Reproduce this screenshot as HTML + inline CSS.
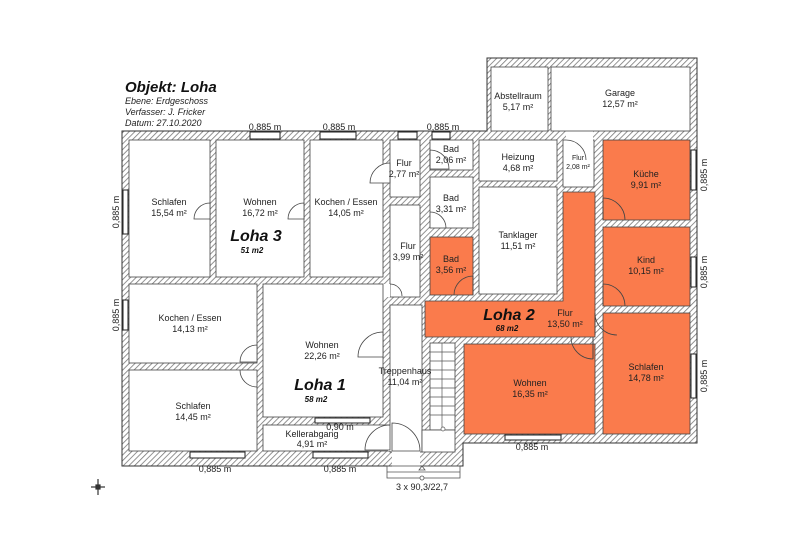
<!DOCTYPE html>
<html><head><meta charset="utf-8"><style>
html,body{margin:0;padding:0;background:#fff;}
svg{display:block;font-family:"Liberation Sans",sans-serif;}
</style></head><body>
<svg width="800" height="552" viewBox="0 0 800 552" xmlns="http://www.w3.org/2000/svg">
<defs>
<pattern id="h" width="4" height="4" patternUnits="userSpaceOnUse" patternTransform="rotate(45)">
<rect width="4" height="4" fill="#fff"/><line x1="0" y1="0" x2="0" y2="4" stroke="#777" stroke-width="1.6"/>
</pattern>
</defs>
<rect width="800" height="552" fill="#fff"/>
<!-- envelope -->
<path d="M122,131 H487 V58 H697 V443 H463 V466 H122 Z" fill="url(#h)" stroke="#333" stroke-width="1"/>
<g stroke="#444" stroke-width="0.8">
<!-- white rooms -->
<g fill="#fff">
<rect x="129" y="140" width="81" height="137"/>
<rect x="216" y="140" width="88" height="137"/>
<rect x="310" y="140" width="73" height="137"/>
<rect x="390" y="140" width="30" height="57"/>
<rect x="390" y="205" width="30" height="92"/>
<rect x="383" y="284" width="7" height="13" stroke="none"/>
<rect x="129" y="284" width="128" height="79"/>
<rect x="129" y="370" width="128" height="81"/>
<rect x="263" y="284" width="120" height="133"/>
<rect x="263" y="425" width="127" height="26"/>
<rect x="390" y="305" width="32" height="147"/>
<rect x="388" y="425" width="4" height="26" stroke="none"/>
<rect x="430" y="343" width="25" height="87"/>
<rect x="422" y="430" width="33" height="22"/>
<rect x="392" y="450" width="28" height="17" stroke="none"/>
<rect x="430" y="140" width="43" height="30"/>
<rect x="430" y="177" width="43" height="51"/>
<rect x="479" y="140" width="78" height="41"/>
<rect x="479" y="187" width="78" height="107"/>
<rect x="563" y="140" width="31" height="47"/>
<rect x="566" y="128" width="27" height="14" stroke="none"/>
<rect x="491" y="67" width="57" height="64"/>
<rect x="551" y="67" width="139" height="64"/>
</g>
<!-- orange rooms -->
<g fill="#FA7B4C">
<path d="M425,301 H563 V192 H595 V337 H425 Z"/>
<rect x="430" y="237" width="43" height="58"/>
<rect x="464" y="344" width="131" height="90"/>
<rect x="603" y="313" width="87" height="121"/>
<rect x="603" y="227" width="87" height="79"/>
<rect x="603" y="140" width="87" height="80"/>
</g>
</g>
<!-- stairs -->
<g stroke="#555" stroke-width="0.7">
<line x1="442" y1="343" x2="442" y2="430"/>
<line x1="430" y1="352" x2="455" y2="352"/><line x1="430" y1="361" x2="455" y2="361"/>
<line x1="430" y1="370" x2="455" y2="370"/><line x1="430" y1="379" x2="455" y2="379"/>
<line x1="430" y1="388" x2="455" y2="388"/><line x1="430" y1="397" x2="455" y2="397"/>
<line x1="430" y1="406" x2="455" y2="406"/><line x1="430" y1="415" x2="455" y2="415"/>
<circle cx="443" cy="429" r="2" fill="#fff"/>
</g>
<!-- steps outside -->
<g fill="none" stroke="#555" stroke-width="0.8">
<rect x="387" y="466" width="73" height="12"/>
<line x1="387" y1="472" x2="460" y2="472"/>
<circle cx="422" cy="478" r="2" fill="#fff"/>
<path d="M419,470 L422,466 L425,470 Z"/>
</g>
<!-- doors -->
<g fill="#fff" stroke="#444" stroke-width="0.8">
<path d="M210,203 A16,16 0 0 0 194,219 H210 Z"/>
<path d="M304,203 A16,16 0 0 0 288,219 H304 Z"/>
<path d="M390,163 A20,20 0 0 0 370,183 H390 Z"/>
<path d="M430,150 A19,19 0 0 1 449,169 H430 Z" fill="none"/>
<path d="M430,212 A16,16 0 0 1 446,228" fill="none"/>
<path d="M390,284 A12,12 0 0 1 402,296" fill="none"/>
<path d="M257,345 A17,17 0 0 0 240,362 H257 Z"/>
<path d="M240,370 A17,17 0 0 0 257,387" fill="none"/>
<path d="M383,332 A25,25 0 0 0 358,357 H383 Z"/>
<path d="M390,425 A25,25 0 0 0 365,450 H390 Z"/>
<path d="M392,423 A28,28 0 0 1 420,451 H392 Z"/>
<path d="M566,140 A20,20 0 0 1 586,160" fill="none"/>
<path d="M603,198 A22,22 0 0 1 625,220" fill="none"/>
<path d="M603,284 A22,22 0 0 1 625,306" fill="none"/>
<path d="M595,313 A22,22 0 0 0 617,335" fill="none"/>
<path d="M473,276 A19,19 0 0 0 454,295" fill="none"/>
<path d="M571,337 A22,22 0 0 0 593,359" fill="none"/>
</g>
<g stroke="#444" stroke-width="1">
<line x1="603" y1="198" x2="603" y2="220"/><line x1="603" y1="284" x2="603" y2="306"/>
<line x1="595" y1="313" x2="595" y2="335"/><line x1="473" y1="276" x2="473" y2="295"/>
<line x1="593" y1="337" x2="593" y2="359"/>
</g>
<!-- windows -->
<g fill="#fff" stroke="#222" stroke-width="1">
<rect x="250" y="132" width="30" height="7"/><rect x="320" y="132" width="36" height="7"/>
<rect x="398" y="132" width="19" height="7"/><rect x="432" y="132" width="18" height="7"/>
<rect x="123" y="190" width="5" height="44"/><rect x="123" y="300" width="5" height="30"/>
<rect x="190" y="452" width="55" height="6"/><rect x="313" y="452" width="55" height="6"/>
<rect x="315" y="418" width="55" height="5"/>
<rect x="505" y="435" width="56" height="5"/>
<rect x="691" y="150" width="5" height="40"/><rect x="691" y="257" width="5" height="30"/>
<rect x="691" y="354" width="5" height="44"/>
</g>
<!-- labels -->
<g font-size="9" fill="#222" text-anchor="middle">
<text x="169" y="205">Schlafen</text><text x="169" y="216">15,54 m²</text>
<text x="260" y="205">Wohnen</text><text x="260" y="216">16,72 m²</text>
<text x="346" y="205">Kochen / Essen</text><text x="346" y="216">14,05 m²</text>
<text x="404" y="166">Flur</text><text x="404" y="177">2,77 m²</text>
<text x="451" y="152">Bad</text><text x="451" y="163">2,06 m²</text>
<text x="451" y="201">Bad</text><text x="451" y="212">3,31 m²</text>
<text x="408" y="249">Flur</text><text x="408" y="260">3,99 m²</text>
<text x="451" y="262">Bad</text><text x="451" y="273">3,56 m²</text>
<text x="518" y="99">Abstellraum</text><text x="518" y="110">5,17 m²</text>
<text x="620" y="96">Garage</text><text x="620" y="107">12,57 m²</text>
<text x="518" y="160">Heizung</text><text x="518" y="171">4,68 m²</text>
<text x="578" y="160" font-size="7">Flur</text><text x="578" y="169" font-size="7">2,08 m²</text>
<text x="518" y="238">Tanklager</text><text x="518" y="249">11,51 m²</text>
<text x="646" y="177">Küche</text><text x="646" y="188">9,91 m²</text>
<text x="646" y="263">Kind</text><text x="646" y="274">10,15 m²</text>
<text x="565" y="316">Flur</text><text x="565" y="327">13,50 m²</text>
<text x="646" y="370">Schlafen</text><text x="646" y="381">14,78 m²</text>
<text x="530" y="386">Wohnen</text><text x="530" y="397">16,35 m²</text>
<text x="190" y="321">Kochen / Essen</text><text x="190" y="332">14,13 m²</text>
<text x="193" y="409">Schlafen</text><text x="193" y="420">14,45 m²</text>
<text x="322" y="348">Wohnen</text><text x="322" y="359">22,26 m²</text>
<text x="405" y="374">Treppenhaus</text><text x="405" y="385">11,04 m²</text>
<text x="312" y="437">Kellerabgang</text><text x="312" y="447">4,91 m²</text>
<text x="265" y="130">0,885 m</text><text x="339" y="130">0,885 m</text><text x="443" y="130">0,885 m</text>
<text x="215" y="472">0,885 m</text><text x="340" y="472">0,885 m</text>
<text x="340" y="430">0,90 m</text><text x="532" y="450">0,885 m</text>
<text x="422" y="490">3 x 90,3/22,7</text>
<text transform="translate(119,212) rotate(-90)">0,885 m</text>
<text transform="translate(119,315) rotate(-90)">0,885 m</text>
<text transform="translate(707,175) rotate(-90)">0,885 m</text>
<text transform="translate(707,272) rotate(-90)">0,885 m</text>
<text transform="translate(707,376) rotate(-90)">0,885 m</text>
</g>
<g font-style="italic" font-weight="bold" fill="#111" text-anchor="middle">
<text x="256" y="241" font-size="16">Loha 3</text><text x="252" y="253" font-size="8">51 m2</text>
<text x="320" y="390" font-size="16">Loha 1</text><text x="316" y="402" font-size="8">58 m2</text>
<text x="509" y="320" font-size="16">Loha 2</text><text x="507" y="331" font-size="8">68 m2</text>
</g>
<text x="125" y="92" font-size="15" font-weight="bold" font-style="italic" fill="#111">Objekt: Loha</text>
<g font-size="9" font-style="italic" fill="#222">
<text x="125" y="104">Ebene: Erdgeschoss</text><text x="125" y="115">Verfasser: J. Fricker</text><text x="125" y="126">Datum: 27.10.2020</text>
</g>
<g stroke="#333" stroke-width="1.2">
<line x1="98" y1="479" x2="98" y2="495"/><line x1="91" y1="487" x2="105" y2="487"/>
<rect x="96" y="485" width="4" height="4" fill="#333"/>
</g>
</svg>
</body></html>
